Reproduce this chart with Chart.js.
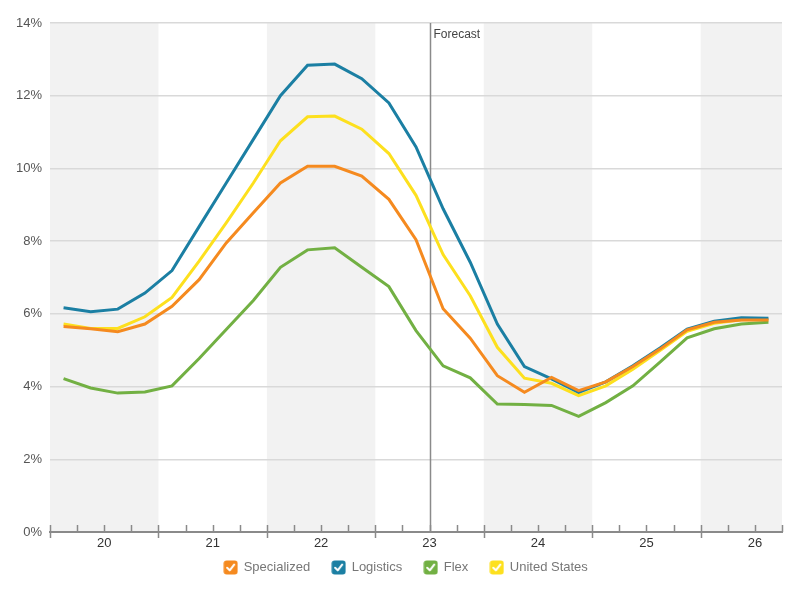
<!DOCTYPE html>
<html>
<head>
<meta charset="utf-8">
<script src="https://cdn.jsdelivr.net/npm/chart.js@4.4.1/dist/chart.umd.min.js"></script>
<style>
   html, body { margin: 0; padding: 0; background: #fff; }
</style>
</head>
<body>
<canvas id="vacancy-chart" width="800" height="590"></canvas>
<script>
// year labels shown under the axis, one per 4 quarters (26 only has 3)
const years = ["20", "21", "22", "23", "24", "25", "26"];
const quarters = [
   "20 Q1", "20 Q2", "20 Q3", "20 Q4",
   "21 Q1", "21 Q2", "21 Q3", "21 Q4",
   "22 Q1", "22 Q2", "22 Q3", "22 Q4",
   "23 Q1", "23 Q2", "23 Q3", "23 Q4",
   "24 Q1", "24 Q2", "24 Q3", "24 Q4",
   "25 Q1", "25 Q2", "25 Q3", "25 Q4",
   "26 Q1", "26 Q2", "26 Q3",
];
const forecastFrom = "23 Q3";
const yTicks = [0, 2, 4, 6, 8, 10, 12, 14];

const specialized = [5.65, 5.59, 5.51, 5.72, 6.21, 6.94, 7.95, 8.78, 9.6, 10.06, 10.06, 9.79, 9.15, 8.04, 6.14, 5.33, 4.3, 3.84, 4.25, 3.89, 4.13, 4.55, 5.03, 5.56, 5.77, 5.83, 5.83];
const logistics = [6.17, 6.06, 6.13, 6.57, 7.19, 8.4, 9.6, 10.8, 12.0, 12.84, 12.87, 12.47, 11.8, 10.59, 8.89, 7.42, 5.72, 4.55, 4.21, 3.84, 4.13, 4.57, 5.06, 5.58, 5.8, 5.89, 5.88];
const flex = [4.22, 3.96, 3.82, 3.85, 4.02, 4.77, 5.57, 6.37, 7.28, 7.76, 7.82, 7.28, 6.75, 5.54, 4.57, 4.24, 3.52, 3.51, 3.48, 3.18, 3.56, 4.02, 4.67, 5.34, 5.59, 5.72, 5.77];
const unitedStates = [5.72, 5.6, 5.6, 5.92, 6.45, 7.45, 8.5, 9.6, 10.76, 11.42, 11.44, 11.08, 10.41, 9.26, 7.63, 6.5, 5.08, 4.23, 4.09, 3.75, 4.02, 4.48, 4.99, 5.52, 5.74, 5.84, 5.84];

const colors = {
   specialized: "#f58a1f",
   logistics: "#1b7fa3",
   flex: "#72b043",
   unitedStates: "#fde01e",
};

// quarter i sits in the middle of slot [i, i+1]
function toPoints(values) {
   return values.map((v, i) => ({ x: i + 0.5, y: v }));
}

function checkbox(color) {
   const c = document.createElement("canvas");
   c.width = 15;
   c.height = 15;
   const g = c.getContext("2d");
   g.fillStyle = color;
   g.beginPath();
   g.roundRect(0.5, 0.5, 14, 14, 3);
   g.fill();
   g.strokeStyle = "#fff";
   g.lineWidth = 2;
   g.lineCap = "round";
   g.lineJoin = "round";
   g.beginPath();
   g.moveTo(4, 7.8);
   g.lineTo(6.6, 10.4);
   g.lineTo(11, 4.6);
   g.stroke();
   return c;
}

// grey band behind every other year
const yearBands = {
   id: "yearBands",
   beforeDraw(chart) {
      const { ctx, chartArea, scales } = chart;
      ctx.save();
      ctx.fillStyle = "#f2f2f2";
      for (let y = 0; y < years.length; y += 2) {
         const x0 = scales.x.getPixelForValue(y * 4);
         const x1 = scales.x.getPixelForValue(Math.min(y * 4 + 4, quarters.length));
         ctx.fillRect(x0, chartArea.top, x1 - x0, chartArea.bottom - chartArea.top);
      }
      ctx.restore();
   },
};

// nudge the legend a bit right and up, like the original
const legendNudge = {
   id: "legendNudge",
   afterLayout(chart) {
      chart.legend.left += 30;
      chart.legend.top -= 12;
   },
};

// forecast marker + quarter tick marks on the x axis
const extras = {
   id: "extras",
   beforeDatasetsDraw(chart) {
      const { ctx, chartArea, scales } = chart;
      const fx = Math.round(scales.x.getPixelForValue(quarters.indexOf(forecastFrom))) + 0.5;
      ctx.save();
      ctx.strokeStyle = "#8a8a8a";
      ctx.lineWidth = 1.5;
      ctx.beginPath();
      ctx.moveTo(fx, chartArea.top);
      ctx.lineTo(fx, chartArea.bottom);
      ctx.stroke();
      ctx.fillStyle = "#444";
      ctx.font = "12px 'Liberation Sans', Arial, sans-serif";
      ctx.textBaseline = "top";
      ctx.fillText("Forecast", fx + 3, chartArea.top + 6);
      ctx.restore();
   },
   afterDraw(chart) {
      const { ctx, chartArea, scales } = chart;
      const b = chartArea.bottom;
      ctx.save();
      ctx.strokeStyle = "#8a8a8a";
      ctx.lineWidth = 1.5;
      for (let i = 0; i <= quarters.length; i++) {
         const x = Math.round(scales.x.getPixelForValue(i)) + 0.5;
         const major = i % 4 === 0;
         ctx.beginPath();
         ctx.moveTo(x, b - 7);
         ctx.lineTo(x, major ? b + 6 : b);
         ctx.stroke();
      }
      ctx.restore();
   },
};

const boxes = [colors.specialized, colors.logistics, colors.flex, colors.unitedStates].map(checkbox);

function line(label, values, color) {
   return {
      label: label,
      data: toPoints(values),
      borderColor: color,
      backgroundColor: color,
      borderWidth: 3,
      pointRadius: 0,
      tension: 0,
      fill: false,
   };
}

const ctx = document.getElementById("vacancy-chart").getContext("2d");
const vacancyChart = new Chart(ctx, {
   type: "line",
   data: {
      datasets: [
         line("Specialized", specialized, colors.specialized),
         line("Logistics", logistics, colors.logistics),
         line("Flex", flex, colors.flex),
         line("United States", unitedStates, colors.unitedStates),
      ],
   },
   options: {
      responsive: false,
      animation: false,
      layout: { padding: { top: 23, right: 18, left: 0, bottom: 6 } },
      font: { family: "'Liberation Sans', Arial, sans-serif" },
      scales: {
         x: {
            type: "linear",
            min: 0,
            max: quarters.length,
            afterBuildTicks: (scale) => {
               scale.ticks = years.map((y, i) => ({ value: i * 4 + 2 }));
            },
            afterFit: (scale) => {
               scale.height = 19;
            },
            ticks: {
               autoSkip: false,
               maxRotation: 0,
               padding: 4,
               color: "#333",
               font: { size: 13, family: "'Liberation Sans', Arial, sans-serif" },
               callback: (v) => years[(v - 2) / 4],
            },
            grid: { display: false, drawTicks: false },
            border: { display: true, color: "#8a8a8a", width: 2 },
         },
         y: {
            min: 0,
            max: 14,
            afterBuildTicks: (scale) => {
               scale.ticks = yTicks.map((v) => ({ value: v }));
            },
            afterFit: (scale) => {
               scale.width = 50;
            },
            ticks: {
               padding: 8,
               color: "#555",
               font: { size: 13, family: "'Liberation Sans', Arial, sans-serif" },
               callback: (v) => v + "%",
            },
            grid: { color: "#d9d9d9", lineWidth: 1.5, drawTicks: false },
            border: { display: false },
         },
      },
      plugins: {
         tooltip: { enabled: false },
         legend: {
            position: "bottom",
            maxHeight: 33,
            labels: {
               usePointStyle: true,
               padding: 22,
               color: "#777",
               font: { size: 13, family: "'Liberation Sans', Arial, sans-serif" },
               generateLabels: (chart) =>
                  Chart.defaults.plugins.legend.labels.generateLabels(chart).map((item) => ({
                     ...item,
                     pointStyle: boxes[item.datasetIndex],
                  })),
            },
         },
      },
   },
   plugins: [yearBands, extras, legendNudge],
});
</script>
</body>
</html>
